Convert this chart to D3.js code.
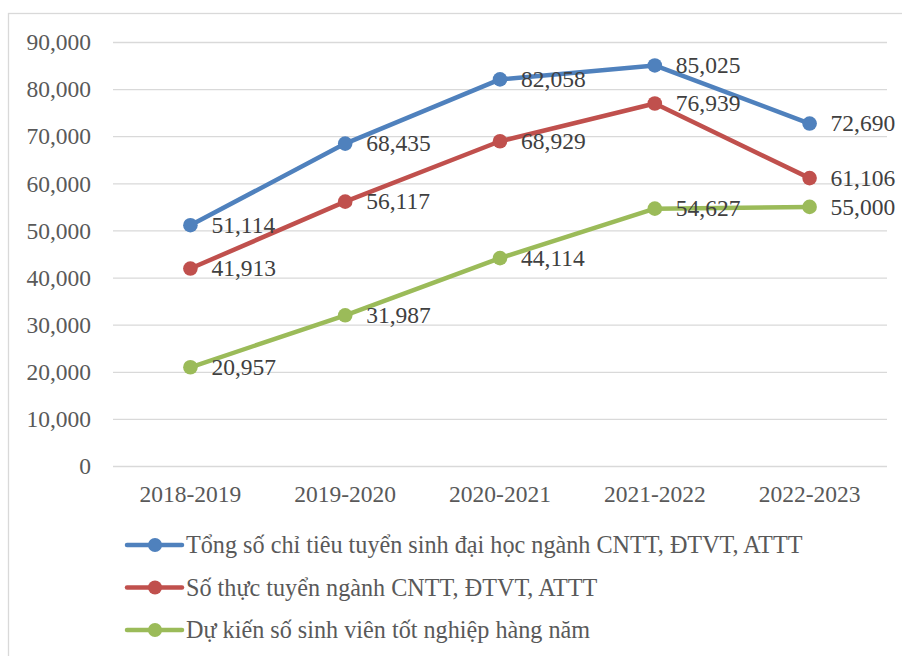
<!DOCTYPE html>
<html>
<head>
<meta charset="utf-8">
<script src="https://cdn.jsdelivr.net/npm/d3@7"></script>
<style>
  html, body { margin: 0; padding: 0; background: #fff; }
  svg { display: block; }
</style>
</head>
<body>
<div class="draw"></div>
<script>
var years = ['2018-2019', '2019-2020', '2020-2021', '2021-2022', '2022-2023'];
var chiTieu = [51114, 68435, 82058, 85025, 72690];
var thucTuyen = [41913, 56117, 68929, 76939, 61106];
var totNghiep = [20957, 31987, 44114, 54627, 55000];
var seriesNames = [
  'Tổng số chỉ tiêu tuyển sinh đại học ngành CNTT, ĐTVT, ATTT',
  'Số thực tuyển ngành CNTT, ĐTVT, ATTT',
  'Dự kiến số sinh viên tốt nghiệp hàng năm'
];
var yTicks = [0, 10000, 20000, 30000, 40000, 50000, 60000, 70000, 80000, 90000];

var colors = ['#4f81bd', '#c0504d', '#9bbb59'];
var series = [chiTieu, thucTuyen, totNghiep].map(function(vals, i) {
  return { name: seriesNames[i], color: colors[i], values: vals };
});

var size = { w: 902, h: 656 };
var plot = { left: 113, right: 887, top: 42, bottom: 466 };
var fontSize = 23.5;
var legendFontSize = 24.2;
var serif = '"Liberation Serif"';

var x = d3.scaleBand().domain(years).range([plot.left, plot.right]).padding(0);
var y = d3.scaleLinear().domain([0, 90000]).range([plot.bottom, plot.top]);
var fmt = d3.format(',');

// every text node gets the same serif font, set on the node itself
function serifText(sel, color, fs) {
  fs = fs || fontSize;
  sel.attr('font-family', 'Liberation Serif')
    .attr('font-size', fs)
    .style('font-family', serif)
    .style('font-size', fs + 'px')
    .attr('fill', color);
}

var svg = d3.select('.draw').append('svg')
  .attr('width', size.w)
  .attr('height', size.h);

// chart frame
svg.append('rect')
  .attr('x', 8.5).attr('y', 13.5)
  .attr('width', size.w).attr('height', size.h)
  .attr('fill', 'none')
  .attr('stroke', '#d9d9d9')
  .attr('stroke-width', 1.3);

// y axis with gridlines
var yAxis = svg.append('g')
  .attr('transform', 'translate(' + plot.left + ',0)')
  .call(d3.axisLeft(y).tickValues(yTicks).tickFormat(fmt)
    .tickSize(-(plot.right - plot.left)).tickPadding(22));
yAxis.attr('font-family', 'Liberation Serif').attr('font-size', fontSize);
yAxis.select('.domain').remove();
yAxis.selectAll('.tick line').attr('stroke', '#d9d9d9').attr('stroke-width', 1.3);
yAxis.selectAll('.tick text')
  .call(serifText, '#595959')
  .attr('dy', '0.33em');

// x axis labels
var xAxis = svg.append('g')
  .attr('transform', 'translate(0,' + plot.bottom + ')')
  .call(d3.axisBottom(x).tickSize(0).tickPadding(36));
xAxis.attr('font-family', 'Liberation Serif').attr('font-size', fontSize);
xAxis.select('.domain').remove();
xAxis.selectAll('.tick text')
  .call(serifText, '#595959')
  .attr('dy', 0);

var line = d3.line()
  .x(function(d, i) { return x(years[i]) + x.bandwidth() / 2; })
  .y(function(d) { return y(d); });

var groups = svg.selectAll('g.series').data(series).enter().append('g')
  .attr('class', 'series');

groups.append('path')
  .attr('d', function(d) { return line(d.values); })
  .attr('fill', 'none')
  .attr('stroke', function(d) { return d.color; })
  .attr('stroke-width', 4.5)
  .attr('stroke-linejoin', 'round')
  .attr('stroke-linecap', 'round');

groups.each(function(s) {
  var g = d3.select(this);
  g.selectAll('circle').data(s.values).enter().append('circle')
    .attr('cx', function(d, i) { return x(years[i]) + x.bandwidth() / 2; })
    .attr('cy', function(d) { return y(d); })
    .attr('r', 7.3)
    .attr('fill', s.color);
});

// data labels, drawn on top of all lines
svg.selectAll('g.labels').data(series).enter().append('g')
  .attr('class', 'labels')
  .each(function(s) {
    d3.select(this).selectAll('text').data(s.values).enter().append('text')
      .attr('x', function(d, i) { return x(years[i]) + x.bandwidth() / 2 + 21; })
      .attr('y', function(d) { return y(d); })
      .attr('dy', '0.33em')
      .call(serifText, '#404040')
      .text(function(d) { return fmt(d); });
  });

// legend
var legend = svg.selectAll('g.legend').data(series).enter().append('g')
  .attr('class', 'legend')
  .attr('transform', function(d, i) { return 'translate(127,' + (545 + i * 42.5) + ')'; });
legend.append('line')
  .attr('x1', 0).attr('x2', 55)
  .attr('stroke', function(d) { return d.color; })
  .attr('stroke-width', 4.5)
  .attr('stroke-linecap', 'round');
legend.append('circle')
  .attr('cx', 28).attr('r', 7)
  .attr('fill', function(d) { return d.color; });
legend.append('text')
  .attr('x', 59)
  .attr('dy', '0.33em')
  .call(serifText, '#595959', legendFontSize)
  .text(function(d) { return d.name; });
</script>
</body>
</html>
